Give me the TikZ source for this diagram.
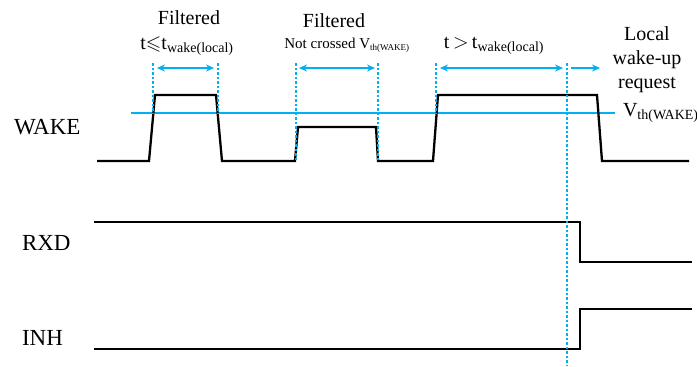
\documentclass[tikz,border=0pt]{standalone}
\usepackage{amssymb}
\usepackage{fontspec}
\setmainfont{Liberation Serif}
\usetikzlibrary{arrows.meta}
\definecolor{cyanline}{RGB}{0,176,240}

\begin{document}
\begin{tikzpicture}[x=1pt,y=-1pt,
  sig/.style={line width=2.3pt},
  thr/.style={draw=cyanline, line width=1.4pt},
  guide/.style={cyanline, line width=1.1pt, dash pattern=on 2.5pt off 2pt},
  span/.style={cyanline, line width=1.1pt, {Stealth[length=8pt,width=7pt]}-{Stealth[length=8pt,width=7pt]}},
  oneway/.style={cyanline, line width=1.1pt, -{Stealth[length=8pt,width=7pt]}},
  big/.style={font=\fontsize{23}{27}\selectfont},
  mid/.style={font=\fontsize{20}{24}\selectfont},
  small/.style={font=\fontsize{15}{18}\selectfont},
  every node/.style={inner sep=0pt, outer sep=0pt}]
\useasboundingbox (0,0) rectangle (697,367);

% signal names
\node[big, anchor=west] (wake) at (14,127) {WAKE};
\node[big, anchor=west] (rxd) at (22,243) {RXD};
\node[big, anchor=west] (inh) at (22,338) {INH};

% WAKE signal and threshold
\draw[thr] (131,113) -- (615,113);
\draw[sig] (97,161) -- (149,161) -- (155,95) -- (216,95) -- (222,161) -- (295,161)
  -- (298,127) -- (376,127) -- (378,161) -- (433,161) -- (438,95) -- (597,95)
  -- (602,161) -- (689,161);
\node[mid, anchor=west] (vth) at (623,113) {V\textsubscript{th(WAKE)}};

% RXD and INH
\draw[sig] (94,222) -- (580,222) -- (580,262) -- (692,262);
\draw[sig] (94,349) -- (580,349) -- (580,309) -- (692,309);

% guide lines
\coordinate (g1) at (153,63);
\coordinate (g2) at (218,63);
\coordinate (g3) at (296,63);
\coordinate (g4) at (378,63);
\coordinate (g5) at (436,63);
\coordinate (g6) at (567,63);
\draw[guide] (g1) -- (153,113);
\draw[guide] (g2) -- (218,113);
\draw[guide] (g3) -- (296,161);
\draw[guide] (g4) -- (378,161);
\draw[guide] (g5) -- (436,113);
\draw[guide] (g6) -- (567,365);

% time spans
\coordinate (a1) at (157,68);
\coordinate (b1) at (214,68);
\coordinate (a2) at (299,68);
\coordinate (b2) at (375,68);
\coordinate (a3) at (440,68);
\coordinate (b3) at (563,68);
\coordinate (a4) at (571,68);
\coordinate (b4) at (600,68);
\draw[span] (a1) -- (b1);
\draw[span] (a2) -- (b2);
\draw[span] (a3) -- (b3);
\draw[oneway] (a4) -- (b4);

% annotations
\node[mid] (filt1) at (189,18) {Filtered};
\node[mid] (cond1) at (187,46) {t$\leqslant$t\textsubscript{wake(local)}};
\node[mid] (filt2) at (334,21) {Filtered};
\node[small] (cond2) at (347,45) {Not crossed V\textsubscript{\fontsize{9}{10}\selectfont th(WAKE)}};
\node[mid] (cond3) at (494,46) {t\,$>$\,t\textsubscript{wake(local)}};
\node[mid, align=center] (req) at (647,60) {Local\\wake-up\\request};
\end{tikzpicture}
\end{document}
